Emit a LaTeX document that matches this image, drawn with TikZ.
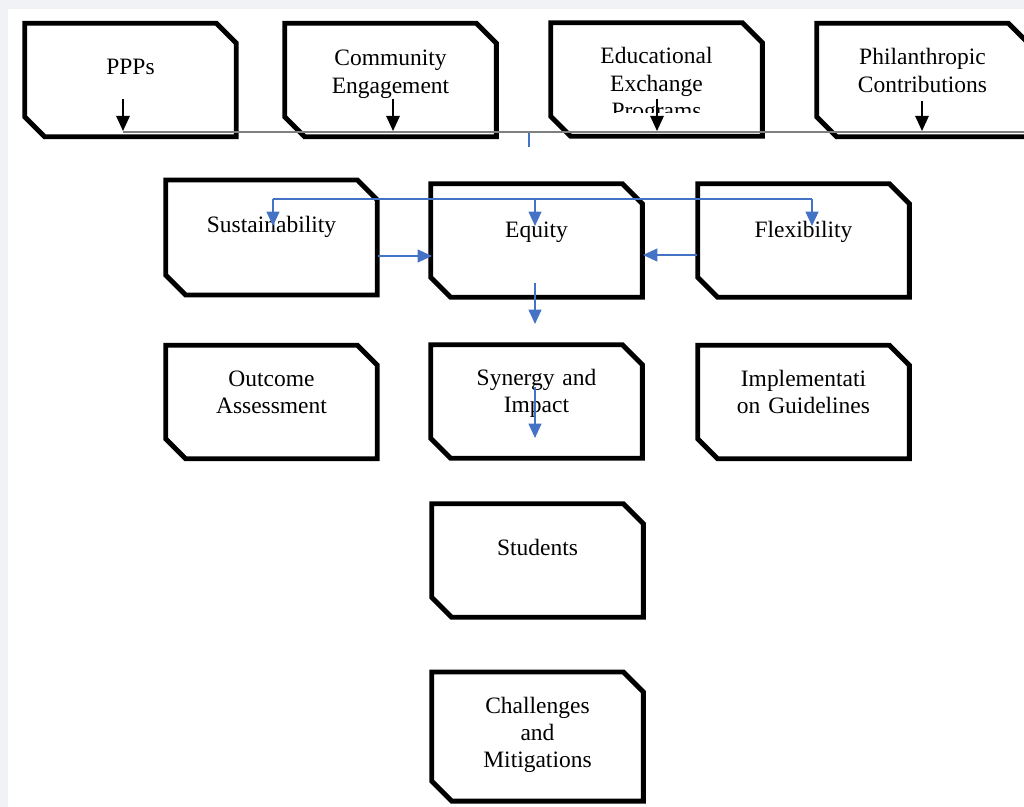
\documentclass[tikz,border=0pt]{standalone}
\usepackage{fontspec}
\setmainfont{Liberation Serif}
\usetikzlibrary{arrows.meta,calc}
\definecolor{bggray}{HTML}{F0F2F5}
\definecolor{oblue}{HTML}{4472C4}
\definecolor{lgray}{HTML}{7F7F7F}
\newcommand\chbox[4]{%
  \node[boxanchor, minimum height=#4*0.025cm] (#1) at (#2,#3) {};
  \draw[boxline] (#1.north west) -- ($(#1.north east)+(-20,0)$) -- ($(#1.north east)+(0,20)$)
    -- (#1.south east) -- ($(#1.south west)+(20,0)$) -- ($(#1.south west)+(0,-20)$) -- cycle;
}
\begin{document}
\begin{tikzpicture}[x=0.025cm,y=-0.025cm,
  boxanchor/.style={rectangle, draw=none, inner sep=0pt, minimum width=211*0.025cm},
  boxline/.style={draw=black, fill=white, line width=3.5pt, line join=miter},
  lbl/.style={font=\fontsize{16.7pt}{19.3pt}\selectfont, align=center, text width=5.2cm, inner sep=0pt, anchor=base},
  barrow/.style={draw=oblue, line width=1.4pt, -{Triangle[length=0.36cm,width=0.32cm]}},
  bline/.style={draw=oblue, line width=1.4pt},
  karrow/.style={draw=black, line width=1.1pt, -{Triangle[length=0.38cm,width=0.34cm]}},
  gline/.style={draw=lgray, line width=1.6pt}]
\useasboundingbox (0,0) rectangle (1024,807);
\clip (0,0) rectangle (1024,807);
\fill[bggray] (0,0) rectangle (1024,807);
\fill[white] (8,9) rectangle (1024,807);

% top row
\chbox{ppp}{130.5}{80}{113}
\chbox{com}{390.5}{80}{113}
\chbox{edu}{656.5}{79.5}{113}
\chbox{phi}{922.5}{80}{113}
\node[lbl] (pppT) at (130.5,75) {PPPs};
\node[lbl] (comT) at (390.5,66) {Community\\Engagement};
\begin{scope}
  \clip (550,21) rectangle (763,113);
  \node[lbl] (eduT) at (656.5,64) {Educational\\Exchange\\Programs};
\end{scope}
\node[lbl] (phiT) at (922.5,65) {Philanthropic\\Contributions};

% middle rows
\chbox{sus}{271.5}{237.5}{114.5}
\chbox{equ}{536.5}{240.5}{113}
\chbox{fle}{803.5}{240.5}{113}
\node[lbl] (susT) at (271.5,233) {Sustainability};
\node[lbl] (equT) at (536.5,237) {Equity};
\node[lbl] (fleT) at (803.5,237) {Flexibility};

\chbox{out}{271.5}{402}{113}
\chbox{syn}{536.5}{401.5}{113}
\chbox{imp}{803.5}{402}{113}
\node[lbl] (outT) at (271.5,386) {Outcome\\Assessment};
\node[lbl] (synT) at (536.5,385) {Synergy and\\Impact};
\node[lbl] (impT) at (803.5,386) {Implementati\\on Guidelines};

\chbox{stu}{537.5}{560.5}{113}
\node[lbl] (stuT) at (537.5,555) {Students};
\chbox{cha}{537.5}{736.5}{128.5}
\node[lbl] (chaT) at (537.5,713) {Challenges\\and\\Mitigations};

% grey bus line and black arrows
\coordinate (busL) at (123,132);
\coordinate (busR) at (1024,132);
\draw[gline] (busL) -- (busR);
\coordinate (pppS) at (123,99);  \coordinate (pppE) at (123,131);
\coordinate (comS) at (393,99);  \coordinate (comE) at (393,131);
\coordinate (eduS) at (657,99);  \coordinate (eduE) at (657,131);
\coordinate (phiS) at (922,101); \coordinate (phiE) at (922,131);
\draw[karrow] (pppS) -- (pppE);
\draw[karrow] (comS) -- (comE);
\draw[karrow] (eduS) -- (eduE);
\draw[karrow] (phiS) -- (phiE);

% blue connectors
\coordinate (tickA) at (529,133); \coordinate (tickB) at (529,147);
\draw[bline] (tickA) -- (tickB);
\coordinate (hL) at (273,199); \coordinate (hM) at (535,199); \coordinate (hR) at (812,199);
\draw[bline] (hL) -- (hR);
\coordinate (susIn) at (273,226);
\coordinate (equIn) at (535,226);
\coordinate (fleIn) at (812,226);
\draw[barrow] (hL) -- (susIn);
\draw[barrow] (hM) -- (equIn);
\draw[barrow] (hR) -- (fleIn);
\coordinate (susR) at (378,256); \coordinate (equL) at (432,256);
\draw[barrow] (susR) -- (equL);
\coordinate (fleL) at (697,255); \coordinate (equR) at (643,255);
\draw[barrow] (fleL) -- (equR);
\coordinate (equD) at (535,283); \coordinate (synU) at (535,324);
\draw[barrow] (equD) -- (synU);
\coordinate (synM) at (535,387); \coordinate (synD) at (535,438);
\draw[barrow] (synM) -- (synD);
\end{tikzpicture}
\end{document}
